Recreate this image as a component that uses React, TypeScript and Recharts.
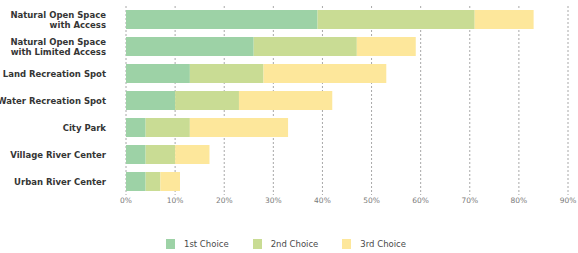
import { BarChart, Bar, XAxis, YAxis, CartesianGrid, Legend } from 'recharts'

const places = [
  'Natural Open Space\nwith Access',
  'Natural Open Space\nwith Limited Access',
  'Land Recreation Spot',
  'Water Recreation Spot',
  'City Park',
  'Village River Center',
  'Urban River Center',
]
const firstChoice = [39, 26, 13, 10, 4, 4, 4]
const secondChoice = [32, 21, 15, 13, 9, 6, 3]
const thirdChoice = [12, 12, 25, 19, 20, 7, 4]
const percentTicks = [0, 10, 20, 30, 40, 50, 60, 70, 80, 90]

const series = [
  { key: 'first', name: '1st Choice', color: '#9dd2a6' },
  { key: 'second', name: '2nd Choice', color: '#c9dc94' },
  { key: 'third', name: '3rd Choice', color: '#fde79b' },
]

const data = places.map((place, i) => ({
  place,
  first: firstChoice[i],
  second: secondChoice[i],
  third: thirdChoice[i],
}))

function PlaceTick({ x, y, payload }: any) {
  const lines = String(payload.value).split('\n')
  const lineH = 9.5
  const start = -((lines.length - 1) * lineH) / 2
  return (
    <text
      x={x}
      y={y}
      textAnchor="end"
      fill="#353535"
      fontSize={8.5}
      fontWeight={700}
      fontFamily="'DejaVu Sans', sans-serif"
    >
      {lines.map((line, i) => (
        <tspan key={i} x={x} y={y + start + i * lineH} dy="0.4em">
          {line}
        </tspan>
      ))}
    </text>
  )
}

function ChoiceLegend() {
  return (
    <div
      style={{
        display: 'flex',
        justifyContent: 'center',
        paddingTop: 21,
        paddingLeft: 4,
        height: 16,
        alignItems: 'center',
        fontFamily: "'DejaVu Sans', sans-serif",
        fontSize: 8.5,
        color: '#4a4a4a',
      }}
    >
      {series.map((s, i) => (
        <div
          key={s.key}
          style={{ display: 'flex', alignItems: 'center', marginLeft: i === 0 ? 0 : 24 }}
        >
          <span style={{ width: 9, height: 10, background: s.color, marginRight: 9, display: 'inline-block' }} />
          <span>{s.name}</span>
        </div>
      ))}
    </div>
  )
}

export default function App() {
  return (
    <div style={{ position: 'absolute', left: 0, top: 0, background: '#fff' }}>
      <BarChart
        width={578}
        height={253}
        data={data}
        layout="vertical"
        margin={{ top: 6, right: 10, left: 0, bottom: 1 }}
        barCategoryGap={8}
      >
        <CartesianGrid horizontal={false} stroke="#a8a8a8" strokeDasharray="2 2" />
        <XAxis
          type="number"
          domain={[0, 90]}
          ticks={percentTicks}
          tickFormatter={(v) => `${v}%`}
          axisLine={false}
          tickLine={false}
          tickSize={0}
          tickMargin={3}
          height={20}
          tick={{ fill: '#7a7a7a', fontSize: 7.5, fontFamily: "'DejaVu Sans', sans-serif" }}
        />
        <YAxis
          type="category"
          dataKey="place"
          width={126}
          axisLine={false}
          tickLine={false}
          tickSize={0}
          tickMargin={20}
          tick={<PlaceTick />}
          interval={0}
        />
        <Legend verticalAlign="bottom" content={<ChoiceLegend />} />
        {series.map((s) => (
          <Bar
            key={s.key}
            dataKey={s.key}
            name={s.name}
            stackId="choice"
            fill={s.color}
            barSize={19}
            isAnimationActive={false}
          />
        ))}
      </BarChart>
    </div>
  )
}
